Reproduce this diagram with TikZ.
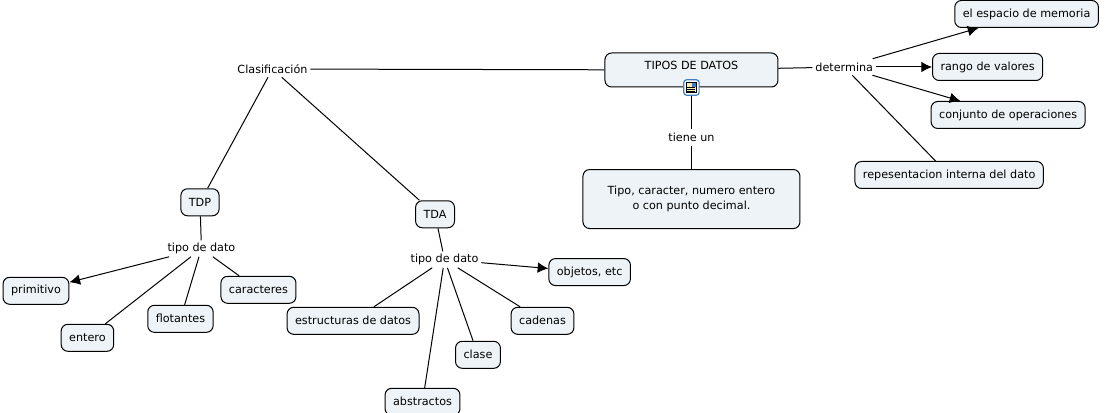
\documentclass[tikz,border=0pt]{standalone}
\usepackage{fontspec}
\setmainfont{DejaVu Sans}
\usepackage{tikz}
\usetikzlibrary{arrows.meta, positioning}
\definecolor{conceptfill}{HTML}{EDF3F6}
\definecolor{iconblue}{HTML}{3F7FC4}
\definecolor{iconpaper}{HTML}{F6EDB4}

\begin{document}
\begin{tikzpicture}[
    concept/.style={draw, rounded corners=5pt, fill=conceptfill, font=\fontsize{8.4}{11}\selectfont, minimum height=20.25pt, inner xsep=6pt, inner ysep=0pt, line width=.75pt},
    phrase/.style={font=\fontsize{8.4}{11}\selectfont, minimum height=12pt, inner xsep=2pt, inner ysep=0pt},
    arr/.style={line width=.75pt, -{Latex[length=8pt, width=8pt]}},
    plain/.style={line width=.75pt},
]
\useasboundingbox (0,0) rectangle (832.5pt,-309.75pt);
\node[concept, minimum width=129.75pt, minimum height=25.5pt, text depth=7pt] (tipos) at (518.6pt,-52.5pt) {TIPOS DE DATOS};
\node[phrase, below=31.5pt of tipos] (tiene) {tiene un};
\node[concept, below=17.25pt of tiene, minimum width=162.75pt, minimum height=44.25pt, align=center] (nota) {Tipo, caracter, numero entero\\o con punto decimal.};
\node[phrase, right=25.5pt of tipos, yshift=2.25pt] (determina) {determina};
\node[concept, right=42pt of determina] (rango) {rango de valores};
\node[concept, above=18.75pt of rango, xshift=29.25pt] (espacio) {el espacio de memoria};
\node[concept, below=15pt of rango, xshift=15.4pt] (conjunto) {conjunto de operaciones};
\node[concept, below=24pt of conjunto, xshift=-44.25pt] (repr) {repesentacion interna del dato};
\node[phrase, left=220.5pt of tipos, yshift=.75pt] (clasif) {Clasificación};
\node[concept, below=83.25pt of clasif, xshift=-54.4pt] (tdp) {TDP};
\node[concept, below=92.25pt of clasif, xshift=121.9pt] (tda) {TDA};
\node[phrase, below=18pt of tdp, xshift=1.1pt] (tipoa) {tipo de dato};
\node[phrase, below=17.25pt of tda, xshift=7.1pt] (tipob) {tipo de dato};
\node[concept, below=14.25pt of tipoa, xshift=42.75pt] (caracteres) {caracteres};
\node[concept, below=15pt of tipoa, xshift=-124.1pt] (primitivo) {primitivo};
\node[concept, below=36pt of tipoa, xshift=-15.75pt] (flotantes) {flotantes};
\node[concept, below=50.25pt of tipoa, xshift=-85.5pt] (entero) {entero};
\node[concept, right=50.25pt of tipob, yshift=-9.4pt] (objetos) {objetos, etc};
\node[concept, below=29.25pt of tipob, xshift=73.5pt] (cadenas) {cadenas};
\node[concept, below=29.25pt of tipob, xshift=-68.6pt] (estructuras) {estructuras de datos};
\node[concept, below=54.75pt of tipob, xshift=25.1pt] (clase) {clase};
\node[concept, below=90pt of tipob, xshift=-16.5pt] (abstractos) {abstractos};

\draw[plain] (tipos) -- (tiene);
\draw[plain] (tiene) -- (nota);
\draw[plain] (tipos) -- (determina);
\draw[plain] (clasif) -- (tipos);
\draw[arr] (determina) -- (espacio);
\draw[arr] (determina) -- (rango);
\draw[arr] (determina) -- (conjunto);
\draw[plain] (determina) -- (repr);
\draw[plain] (clasif) -- (tdp);
\draw[plain] (clasif) -- (tda);
\draw[plain] (tdp) -- (tipoa);
\draw[plain] (tda) -- (tipob);
\draw[arr] (tipoa) -- (primitivo);
\draw[plain] (tipoa) -- (entero);
\draw[plain] (tipoa) -- (flotantes);
\draw[plain] (tipoa) -- (caracteres);
\draw[arr] (tipob) -- (objetos);
\draw[plain] (tipob) -- (cadenas);
\draw[plain] (tipob) -- (clase);
\draw[plain] (tipob) -- (abstractos);
\draw[plain] (tipob) -- (estructuras);

% document icon on the main concept
\node[draw=iconblue, fill=white, rounded corners=2pt, line width=.9pt, minimum size=11.5pt, inner sep=0pt] (icono) at (tipos.south) {};
\fill[iconpaper, draw=black, line width=.4pt] ([xshift=-3.9pt, yshift=-3.9pt]icono.center) rectangle ([xshift=3.9pt, yshift=3.9pt]icono.center);
\fill[iconblue] ([xshift=.6pt, yshift=.6pt]icono.center) rectangle ([xshift=3.5pt, yshift=3.5pt]icono.center);
\foreach \ypos in {-2.6pt, -1.2pt, .2pt}
    \draw[line width=.35pt] ([xshift=-3pt, yshift=\ypos]icono.center) -- ([xshift=3pt, yshift=\ypos]icono.center);
\end{tikzpicture}
\end{document}
